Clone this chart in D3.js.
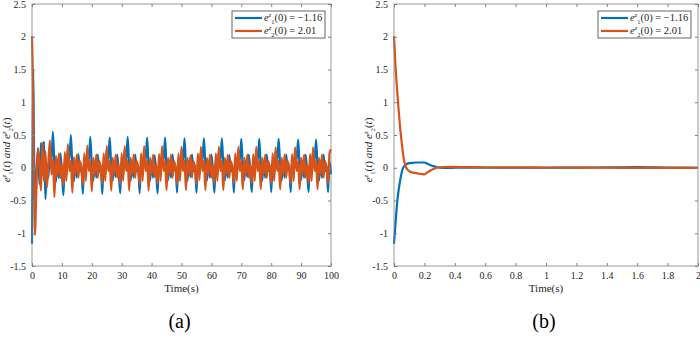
<!DOCTYPE html>
<html>
<head>
<meta charset="utf-8">
<script src="https://cdn.jsdelivr.net/npm/d3@7"></script>
<style>
  body { margin: 0; background: #fff; }
  svg, svg text { font-family: "Liberation Serif", "Times New Roman", Times, serif; }
</style>
</head>
<body>
<svg id="fig" width="700" height="339"></svg>
<script>
// ---- data ----
var yTicks = [-1.5, -1, -0.5, 0, 0.5, 1, 1.5, 2, 2.5];
var xTicksA = [0, 10, 20, 30, 40, 50, 60, 70, 80, 90, 100];
var xTicksB = [0, 0.2, 0.4, 0.6, 0.8, 1, 1.2, 1.4, 1.6, 1.8, 2];
var legendLabels = [
  {sub: "1", val: "\u22121.16"},
  {sub: "2", val: "2.01"}
];

// (a) first two seconds sampled finer, then every 0.5 s
var timeA = [0, 0.2, 0.4, 0.6, 0.8, 1.0, 1.2, 1.5, 2.0].concat(d3.range(2.5, 100.001, 0.5));

var blueA = [
  -1.16, 0.2, 1.5, 0.6, -0.2, -0.55, -0.65, -0.1, 0.3,
  // 2.5 - 6.5
  -0.25, 0.38, -0.1, 0.4, -0.48, 0.05, -0.15, 0.3, 0.1,
  // 7.0
  0.55, 0.02, -0.22, 0.12, -0.16, 0.22, -0.06, -0.42, 0.1, -0.12, 0.3, 0.12,
  // 13.0
  0.5, 0.0, -0.21, 0.1, -0.15, 0.21, -0.05, 0.05, -0.4, 0.1, -0.1, 0.29, 0.1,
  // 19.5
  0.47, 0.01, -0.2, 0.11, -0.15, 0.2, -0.06, 0.04, -0.4, 0.09, -0.1, 0.28, 0.11,
  // 26.0
  0.46, 0.0, -0.2, 0.1, -0.14, 0.2, -0.05, -0.39, 0.1, -0.1, 0.28, 0.1,
  // 32.0
  0.47, 0.0, -0.2, 0.1, -0.15, 0.2, -0.05, 0.05, -0.39, 0.1, -0.1, 0.28, 0.1,
  // 38.5
  0.46, 0.01, -0.2, 0.1, -0.15, 0.19, -0.05, -0.39, 0.1, -0.11, 0.27, 0.1,
  // 44.5
  0.46, 0.0, -0.19, 0.1, -0.15, 0.2, -0.04, 0.05, -0.38, 0.1, -0.1, 0.28, 0.1,
  // 51.0
  0.45, 0.0, -0.2, 0.11, -0.14, 0.2, -0.05, 0.04, -0.38, 0.09, -0.1, 0.27, 0.11,
  // 57.5
  0.45, 0.0, -0.2, 0.1, -0.15, 0.2, -0.05, -0.38, 0.1, -0.1, 0.27, 0.1,
  // 63.5
  0.45, 0.01, -0.2, 0.1, -0.15, 0.19, -0.05, 0.05, -0.38, 0.1, -0.1, 0.27, 0.1,
  // 70.0
  0.44, 0.0, -0.19, 0.1, -0.14, 0.2, -0.05, -0.37, 0.1, -0.1, 0.27, 0.1,
  // 76.0
  0.44, 0.0, -0.2, 0.1, -0.15, 0.2, -0.05, 0.05, -0.37, 0.1, -0.1, 0.26, 0.1,
  // 82.5
  0.44, 0.0, -0.2, 0.1, -0.15, 0.2, -0.04, 0.05, -0.37, 0.1, -0.1, 0.26, 0.11,
  // 89.0
  0.43, 0.01, -0.19, 0.1, -0.15, 0.2, -0.05, -0.37, 0.1, -0.1, 0.26, 0.1,
  // 95.0 - 100
  0.43, 0.0, -0.2, 0.1, -0.15, 0.2, -0.05, 0.05, -0.37, 0.1, -0.1
];

var orangeA = [
  2.01, 1.6, 0.9, 0.1, -0.6, -1.03, -0.8, -0.2, 0.28,
  // 2.5 - 6.5
  0.05, -0.35, 0.38, -0.2, 0.25, -0.3, 0.1, 0.42, -0.1,
  // 7.0
  0.12, -0.45, 0.18, -0.12, 0.22, -0.16, 0.06, -0.27, 0.24, -0.2, 0.36, -0.05,
  // 13.0
  0.1, -0.38, 0.16, -0.1, 0.2, -0.15, 0.1, 0.0, -0.26, 0.22, -0.2, 0.34, -0.05,
  // 19.5
  0.1, -0.36, 0.15, -0.1, 0.2, -0.15, 0.1, 0.0, -0.25, 0.22, -0.2, 0.33, -0.05,
  // 26.0
  0.1, -0.35, 0.15, -0.1, 0.2, -0.15, 0.05, -0.25, 0.22, -0.2, 0.33, -0.05,
  // 32.0
  0.1, -0.35, 0.15, -0.1, 0.2, -0.15, 0.1, 0.0, -0.25, 0.22, -0.2, 0.33, -0.05,
  // 38.5
  0.1, -0.35, 0.15, -0.1, 0.2, -0.14, 0.05, -0.25, 0.21, -0.2, 0.33, -0.05,
  // 44.5
  0.1, -0.34, 0.15, -0.1, 0.2, -0.15, 0.1, 0.0, -0.25, 0.22, -0.2, 0.32, -0.05,
  // 51.0
  0.1, -0.34, 0.15, -0.1, 0.19, -0.15, 0.1, 0.0, -0.25, 0.22, -0.19, 0.32, -0.05,
  // 57.5
  0.1, -0.34, 0.15, -0.1, 0.2, -0.15, 0.05, -0.25, 0.22, -0.2, 0.32, -0.05,
  // 63.5
  0.1, -0.34, 0.15, -0.1, 0.2, -0.15, 0.1, 0.0, -0.24, 0.22, -0.2, 0.32, -0.05,
  // 70.0
  0.1, -0.33, 0.15, -0.1, 0.2, -0.15, 0.05, -0.24, 0.21, -0.2, 0.32, -0.05,
  // 76.0
  0.1, -0.33, 0.15, -0.1, 0.2, -0.15, 0.1, 0.0, -0.24, 0.22, -0.2, 0.31, -0.05,
  // 82.5
  0.1, -0.33, 0.15, -0.1, 0.2, -0.15, 0.1, 0.0, -0.24, 0.21, -0.2, 0.31, -0.05,
  // 89.0
  0.1, -0.33, 0.15, -0.1, 0.2, -0.15, 0.05, -0.24, 0.21, -0.2, 0.31, -0.05,
  // 95.0 - 100
  0.1, -0.33, 0.15, -0.1, 0.2, -0.15, 0.1, 0.0, -0.24, 0.22, 0.28
];

// (b) zoom on the first 2 s
var timeB = [0, 0.01, 0.02, 0.03, 0.04, 0.05, 0.06, 0.08, 0.1, 0.12, 0.15, 0.18, 0.2, 0.22,
             0.25, 0.28, 0.3, 0.35, 0.4, 0.5, 0.6, 0.8, 1.0, 1.2, 1.4, 1.6, 1.8, 2.0];
var blueB = [-1.16, -0.85, -0.55, -0.35, -0.2, -0.08, 0.0, 0.05, 0.07, 0.075, 0.08, 0.08, 0.08, 0.06,
             0.03, 0.01, 0.0, -0.004, 0.0, 0.0, 0.0, 0.0, 0.0, 0.002, 0.005, 0.009, 0.004, 0.0];
var orangeB = [2.01, 1.55, 1.2, 0.9, 0.62, 0.4, 0.2, 0.0, -0.05, -0.07, -0.085, -0.095, -0.1, -0.07,
               -0.03, 0.0, 0.008, 0.012, 0.012, 0.01, 0.008, 0.005, 0.004, 0.002, 0.0, -0.002, -0.002, -0.003];

if (timeA.length !== blueA.length || timeA.length !== orangeA.length)
  throw new Error("length mismatch A: " + timeA.length + " " + blueA.length + " " + orangeA.length);

var colBlue = "#0072BD", colOrange = "#D95319", axisCol = "#262626";
var serif = "'Liberation Serif', 'Times New Roman', Times, serif";
var svg = d3.select("#fig");

// e^z_k followed by "(arg)"
function eTerm(t, sub, arg, fs) {
  t.append("tspan").attr("font-style", "italic").text("e");
  t.append("tspan").attr("font-size", fs * 0.62).attr("font-style", "italic").attr("dy", -fs * 0.35).text("z");
  t.append("tspan").attr("font-size", fs * 0.62).attr("dy", fs * 0.6).text(sub);
  t.append("tspan").attr("dy", -fs * 0.25).text("(");
  if (arg === "t") t.append("tspan").attr("font-style", "italic").text("t");
  else t.append("tspan").text(arg);
  t.append("tspan").text(")");
}

function ylabel(g, x, y) {
  var t = g.append("text")
    .attr("transform", "translate(" + x + "," + y + ") rotate(-90)")
    .attr("text-anchor", "middle")
    .attr("font-family", serif)
    .attr("font-size", 11)
    .attr("fill", axisCol);
  eTerm(t, "1", "t", 11);
  t.append("tspan").attr("font-style", "italic").text(" and ");
  eTerm(t, "2", "t", 11);
}

function panel(opt) {
  var x = d3.scaleLinear().domain(opt.xdom).range([opt.left, opt.right]);
  var y = d3.scaleLinear().domain([-1.5, 2.5]).range([266, 4]);
  var g = svg.append("g");

  // series
  var line = d3.line()
    .x(function(d) { return x(d[0]); })
    .y(function(d) { return y(d[1]); })
    .curve(d3.curveMonotoneX);
  var series = [
    {col: colBlue, pts: d3.zip(opt.t, opt.b)},
    {col: colOrange, pts: d3.zip(opt.t, opt.o)}
  ];
  g.selectAll(".series")
    .data(series)
    .enter()
    .append("path")
    .attr("fill", "none")
    .attr("stroke", function(d) { return d.col; })
    .attr("stroke-width", 2.2)
    .attr("stroke-linejoin", "round")
    .attr("d", function(d) { return line(d.pts); });

  // box with inward ticks on all four sides
  g.append("rect")
    .attr("x", opt.left).attr("y", 4)
    .attr("width", opt.right - opt.left).attr("height", 262)
    .attr("fill", "none").attr("stroke", "#808080").attr("stroke-width", 0.8);

  var bottom = g.append("g").attr("transform", "translate(0,266)")
    .call(d3.axisBottom(x).tickValues(opt.xticks).tickSize(-3).tickPadding(6)
      .tickFormat(function(d) { return String(+d.toFixed(1)); }));
  var top = g.append("g").attr("transform", "translate(0,4)")
    .call(d3.axisTop(x).tickValues(opt.xticks).tickSize(-3).tickFormat(""));
  var leftAx = g.append("g").attr("transform", "translate(" + opt.left + ",0)")
    .call(d3.axisLeft(y).tickValues(yTicks).tickSize(-3).tickPadding(6)
      .tickFormat(function(d) { return String(d); }));
  var rightAx = g.append("g").attr("transform", "translate(" + opt.right + ",0)")
    .call(d3.axisRight(y).tickValues(yTicks).tickSize(-3).tickFormat(""));
  [bottom, top, leftAx, rightAx].forEach(function(a) {
    a.attr("font-family", serif);
    a.select(".domain").remove();
    a.selectAll("line").attr("stroke", "#808080");
    a.selectAll("text").attr("font-family", serif).attr("font-size", 10).attr("fill", axisCol);
  });

  g.append("text")
    .attr("x", (opt.left + opt.right) / 2).attr("y", 292)
    .attr("text-anchor", "middle").attr("font-family", serif)
    .attr("font-size", 11).attr("fill", axisCol)
    .text("Time(s)");

  g.append("text")
    .attr("x", (opt.left + opt.right) / 2 - 2).attr("y", 328)
    .attr("text-anchor", "middle").attr("font-family", serif)
    .attr("font-size", 20).attr("fill", "#000")
    .text(opt.tag);

  ylabel(g, opt.left - 22, 150);

  // legend
  var lg = g.append("g").attr("transform", "translate(" + opt.legX + "," + opt.legY + ")");
  lg.append("rect").attr("width", opt.legW).attr("height", 27)
    .attr("fill", "#fff").attr("stroke", "#404040").attr("stroke-width", 0.8);
  var rows = lg.selectAll(".row")
    .data(legendLabels)
    .enter()
    .append("g")
    .attr("transform", function(d, i) { return "translate(0," + (7 + i * 13) + ")"; });
  rows.append("line")
    .attr("x1", 3).attr("x2", 30)
    .attr("stroke", function(d, i) { return i === 0 ? colBlue : colOrange; })
    .attr("stroke-width", 2.2);
  rows.append("text")
    .attr("x", 32).attr("y", 3)
    .attr("font-family", serif)
    .attr("font-size", 10.5).attr("fill", axisCol)
    .each(function(d) {
      var t = d3.select(this);
      eTerm(t, d.sub, "0", 10.5);
      t.append("tspan").text(" = " + d.val);
    });
}

panel({xdom: [0, 100], left: 32, right: 331, t: timeA, b: blueA, o: orangeA,
       xticks: xTicksA, tag: "(a)", legX: 232, legY: 11, legW: 93});
panel({xdom: [0, 2], left: 394, right: 698, t: timeB, b: blueB, o: orangeB,
       xticks: xTicksB, tag: "(b)", legX: 598, legY: 11, legW: 93});
</script>
</body>
</html>
